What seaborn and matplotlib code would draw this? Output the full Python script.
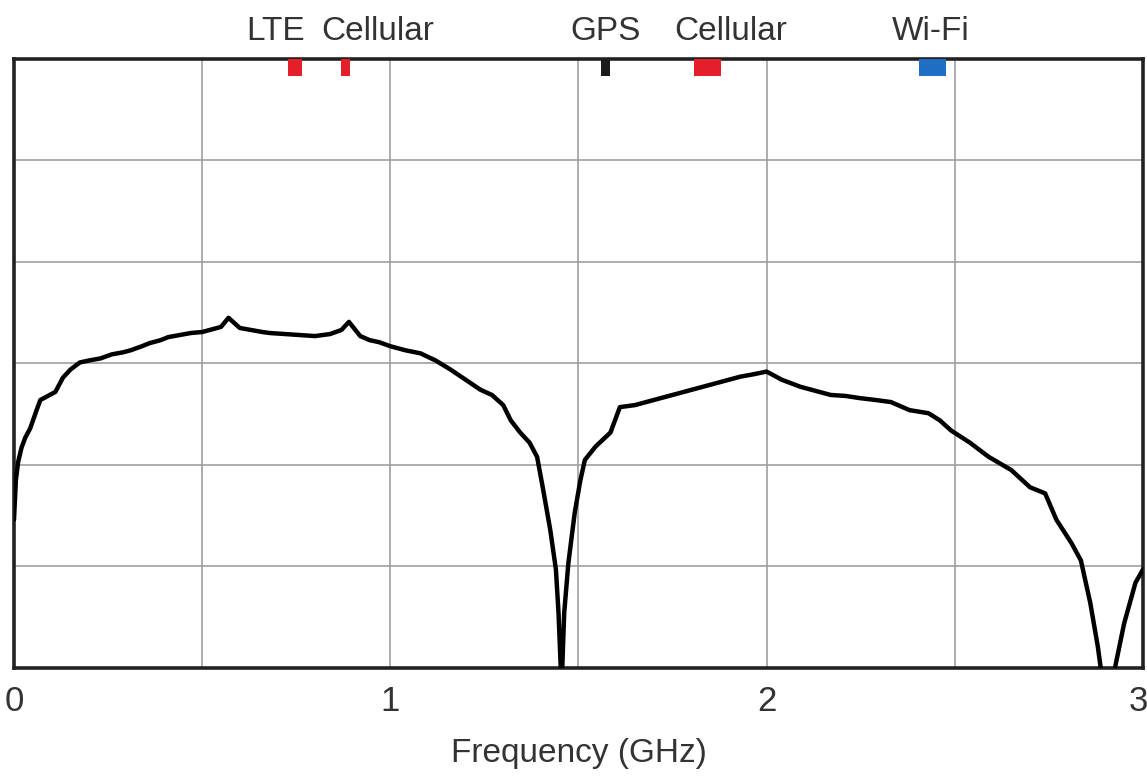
import matplotlib
matplotlib.use("Agg")
import matplotlib.pyplot as plt
import seaborn as sns
import numpy as np
import pandas as pd

# ---- data (y in grid divisions, 0 = bottom, 6 = top) ----
freq = [0.000, 0.005, 0.011, 0.02, 0.03, 0.043, 0.06, 0.07, 0.09, 0.11, 0.13, 0.15,
        0.175, 0.2, 0.23, 0.26, 0.29, 0.31, 0.34, 0.36, 0.39, 0.41, 0.44, 0.47,
        0.50, 0.52, 0.55, 0.57, 0.60, 0.63, 0.66, 0.68, 0.72, 0.76, 0.80, 0.84,
        0.87, 0.89, 0.92, 0.945, 0.97, 1.00, 1.04, 1.08, 1.12, 1.16, 1.20, 1.24,
        1.27, 1.30, 1.32, 1.345, 1.37, 1.39, 1.405, 1.425, 1.44, 1.447, 1.455,
        1.462, 1.473, 1.49, 1.505, 1.517, 1.545, 1.585, 1.61, 1.65, 1.70, 1.75,
        1.80, 1.85, 1.90, 1.93, 1.96, 2.00, 2.04, 2.09, 2.13, 2.17, 2.21, 2.245,
        2.29, 2.33, 2.38, 2.43, 2.46, 2.49, 2.54, 2.59, 2.65, 2.70, 2.74, 2.77,
        2.81, 2.835, 2.86, 2.88, 2.895, 2.915, 2.926, 2.95, 2.98, 3.00]
level = [1.46, 1.85, 2.03, 2.17, 2.27, 2.36, 2.54, 2.64, 2.68, 2.72, 2.86, 2.94,
         3.01, 3.03, 3.05, 3.09, 3.11, 3.13, 3.17, 3.20, 3.23, 3.26, 3.28, 3.30,
         3.31, 3.33, 3.36, 3.45, 3.35, 3.33, 3.31, 3.30, 3.29, 3.28, 3.27, 3.29,
         3.33, 3.41, 3.27, 3.23, 3.21, 3.17, 3.13, 3.10, 3.03, 2.94, 2.84, 2.74,
         2.69, 2.59, 2.44, 2.32, 2.22, 2.08, 1.78, 1.36, 0.97, 0.54, -0.20,
         0.54, 1.03, 1.53, 1.85, 2.05, 2.18, 2.32, 2.57, 2.59, 2.64, 2.69,
         2.74, 2.79, 2.84, 2.87, 2.89, 2.92, 2.84, 2.77, 2.73, 2.69, 2.68, 2.66,
         2.64, 2.62, 2.54, 2.51, 2.44, 2.34, 2.22, 2.08, 1.95, 1.78, 1.72, 1.46,
         1.23, 1.06, 0.64, 0.21, -0.20, -0.20, 0.01, 0.44, 0.84, 0.97]

band_names = ["LTE", "Cellular", "GPS", "Cellular", "Wi-Fi"]
band_lo = [0.728, 0.869, 1.560, 1.807, 2.405]
band_hi = [0.765, 0.893, 1.584, 1.879, 2.477]
label_x = [0.694, 0.967, 1.571, 1.905, 2.437]
xticks = [0, 1, 2, 3]
xtick_labels = ["0", "1", "2", "3"]

band_colors = ["#e41f2a", "#e41f2a", "#1a1a1a", "#e41f2a", "#1f6fc4"]

sns.set_style("white")
fam = ["Liberation Sans Narrow", "Liberation Sans", "DejaVu Sans"]
plt.rcParams["font.family"] = fam

fig = plt.figure(figsize=(11.47, 7.81), dpi=100)
ax = fig.add_axes([0.0122, 0.1447, 0.9843, 0.7798])

df = pd.DataFrame({"f": freq, "v": level})
sns.lineplot(data=df, x="f", y="v", ax=ax, color="black", linewidth=3.2,
             sort=False, zorder=3)

ax.set_xlim(0, 3)
ax.set_ylim(0, 6)
ax.set_xticks(np.arange(0, 3.01, 0.5))
ax.set_yticks(np.arange(0, 6.01, 1))
ax.grid(True, color="#a0a0a0", linewidth=1.2)
ax.set_yticklabels([])
ax.set_xticklabels([])
ax.tick_params(length=0)

# band markers at top
for lo, hi, c in zip(band_lo, band_hi, band_colors):
    ax.bar((lo + hi) / 2, 0.17, width=hi - lo, bottom=6 - 0.17, color=c,
           linewidth=0, zorder=4)

for name, x in zip(band_names, label_x):
    ax.text(x, 6.19, name, ha="center", va="baseline", fontsize=24,
            color="#333333", family=fam)

tick_pos = [t if t < 3 else 2.988 for t in xticks]
for t, lab in zip(tick_pos, xtick_labels):
    ax.text(t, -0.42, lab, ha="center", va="baseline", fontsize=25,
            color="#333333", family=fam)

ax.set_xlabel("")
ax.set_ylabel("")
ax.text(1.5, -0.93, "Frequency (GHz)", ha="center", va="baseline", fontsize=24,
        color="#333333", family=fam)

for s in ax.spines.values():
    s.set_visible(True)
    s.set_color("#222222")
    s.set_linewidth(2.6)

fig.savefig("out.png", dpi=100)
